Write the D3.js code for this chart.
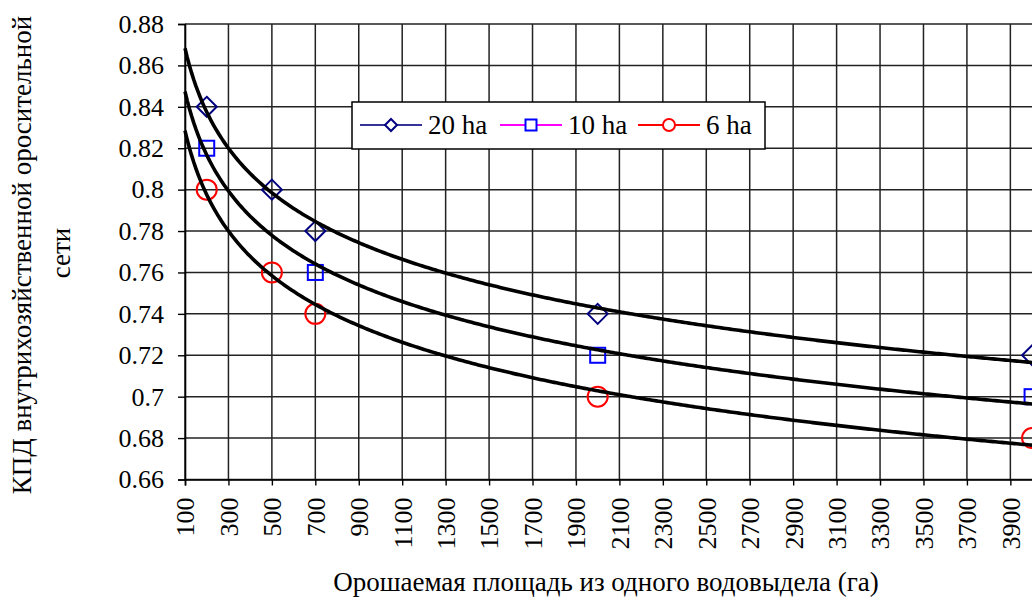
<!DOCTYPE html>
<html><head><meta charset="utf-8">
<script src="https://cdn.jsdelivr.net/npm/d3@7"></script>
<style>body{margin:0;background:#fff}svg{display:block}svg text{font-family:"Liberation Serif",serif !important;fill:#000}</style>
</head><body>
<svg id="c" width="1032" height="602"></svg>
<script>
// ---- data ----
const seriesNames = ["20 ha", "10 ha", "6 ha"];
const x20 = [200, 500, 700, 2000, 4000];
const y20 = [0.84, 0.80, 0.78, 0.74, 0.72];
const x10 = [200, 700, 2000, 4000];
const y10 = [0.82, 0.76, 0.72, 0.70];
const x6 = [200, 500, 700, 2000, 4000];
const y6 = [0.80, 0.76, 0.74, 0.70, 0.68];
const xTicks = [100,300,500,700,900,1100,1300,1500,1700,1900,2100,2300,2500,2700,2900,3100,3300,3500,3700,3900];
const yTicks = [0.66,0.68,0.70,0.72,0.74,0.76,0.78,0.80,0.82,0.84,0.86,0.88];
const xTitle = "Орошаемая площадь из одного водовыдела (га)";
const yTitle1 = "КПД внутрихозяйственной оросительной";
const yTitle2 = "сети";

const FONT = "'Liberation Serif', serif";
const svg = d3.select("#c");
const x = d3.scaleLinear().domain([100, 4100]).range([185, 185 + 4000 * 0.2172]);
const y = d3.scaleLinear().domain([0.66, 0.88]).range([479.5, 24]);
const fs = 26;

// grid
const g = svg.append("g");
g.selectAll("line.v").data(xTicks.concat([4100])).join("line")
  .attr("x1", d => x(d)).attr("x2", d => x(d)).attr("y1", y(0.88)).attr("y2", y(0.66))
  .attr("stroke", "#222").attr("stroke-width", 1.5);
g.selectAll("line.h").data(yTicks).join("line")
  .attr("x1", x(100)).attr("x2", x(4100)).attr("y1", d => y(d)).attr("y2", d => y(d))
  .attr("stroke", "#222").attr("stroke-width", 1.5);

// axes
const yAxis = d3.axisLeft(y).tickValues(yTicks).tickSize(7).tickPadding(14)
  .tickFormat(d => String(+d.toFixed(2)));
const ya = svg.append("g").attr("transform", `translate(${x(100)},0)`).call(yAxis)
  .attr("font-family", null).attr("font-size", null);
ya.select(".domain").attr("stroke", "#000").attr("stroke-width", 1.6);
ya.selectAll(".tick line").attr("stroke", "#000").attr("stroke-width", 1.4);
ya.selectAll("text").style("font-size", fs + "px").style("font-family", FONT);

const xAxis = d3.axisBottom(x).tickValues(xTicks).tickSize(6).tickFormat(d3.format("d"));
const xa = svg.append("g").attr("transform", `translate(0,${y(0.66)})`).call(xAxis)
  .attr("font-family", null).attr("font-size", null);
xa.select(".domain").attr("stroke", "#000").attr("stroke-width", 1.6);
xa.selectAll(".tick line").attr("stroke", "#000").attr("stroke-width", 1.4);
xa.selectAll("text").style("font-size", fs + "px").style("font-family", FONT)
  .attr("transform", "rotate(-90)").attr("text-anchor", "end")
  .attr("x", -18).attr("y", 0).attr("dy", "0.34em");

// markers (hollow)
const series = [
  {xs: x20, ys: y20, color: "#000080", line: "#333399", shape: "diamond"},
  {xs: x10, ys: y10, color: "#0000ff", line: "#ff00ff", shape: "square"},
  {xs: x6,  ys: y6,  color: "#ff0000", line: "#ff0000", shape: "circle"}
];
function marker(sel, shape, color, fill) {
  if (shape === "diamond") sel.append("path").attr("d", "M0,-10L10,0L0,10L-10,0Z");
  else if (shape === "square") sel.append("rect").attr("x", -7.5).attr("y", -7.5).attr("width", 15).attr("height", 15);
  else sel.append("circle").attr("r", 10);
  sel.selectAll("*").attr("fill", fill).attr("stroke", color).attr("stroke-width", 2);
}
series.forEach(s => {
  s.xs.forEach((xv, i) => {
    const m = svg.append("g").attr("transform", `translate(${x(xv)},${y(s.ys[i])})`);
    marker(m, s.shape, s.color, "none");
  });
});

// power trendlines y = a*x^b fitted by least squares on ln-ln
function powerFit(xs, ys) {
  const lx = xs.map(Math.log), ly = ys.map(Math.log);
  const mx = d3.mean(lx), my = d3.mean(ly);
  const b = d3.sum(lx.map((v, i) => (v - mx) * (ly[i] - my))) / d3.sum(lx.map(v => (v - mx) ** 2));
  const a = Math.exp(my - b * mx);
  return v => a * Math.pow(v, b);
}
const samples = d3.range(100, 4101, 10);
series.forEach(s => {
  const f = powerFit(s.xs, s.ys);
  svg.append("path").datum(samples)
    .attr("d", d3.line().x(d => x(d)).y(d => y(f(d))))
    .attr("fill", "none").attr("stroke", "#000").attr("stroke-width", 3.6)
    .attr("stroke-linejoin", "round");
});

// legend
const lg = svg.append("g");
lg.append("rect").attr("x", 352).attr("y", 102).attr("width", 413).attr("height", 47)
  .attr("fill", "#fff").attr("stroke", "#000").attr("stroke-width", 1.5);
const lx0 = [360, 500, 638];
series.forEach((s, i) => {
  const gx = lx0[i];
  lg.append("line").attr("x1", gx).attr("x2", gx + 62).attr("y1", 125).attr("y2", 125)
    .attr("stroke", s.line).attr("stroke-width", 2.2);
  const m = lg.append("g").attr("transform", `translate(${gx + 31},125)`);
  if (s.shape === "diamond") { m.append("path").attr("d", "M0,-6L6,0L0,6L-6,0Z"); }
  else if (s.shape === "square") { m.append("rect").attr("x", -5.5).attr("y", -5.5).attr("width", 11).attr("height", 11); }
  else { m.append("circle").attr("r", 6); }
  m.selectAll("*").attr("fill", "#fff").attr("stroke", s.color).attr("stroke-width", 2);
  lg.append("text").attr("x", gx + 68).attr("y", 134).style("font-size", "27px").style("font-family", FONT).text(seriesNames[i]);
});

// titles
svg.append("text").attr("x", 606).attr("y", 591).attr("text-anchor", "middle")
  .style("font-size", "27px").style("font-family", FONT).text(xTitle);
svg.append("text").attr("transform", "translate(31,255) rotate(-90)").attr("text-anchor", "middle")
  .style("font-size", "27px").style("font-family", FONT).text(yTitle1);
svg.append("text").attr("transform", "translate(70,253) rotate(-90)").attr("text-anchor", "middle")
  .style("font-size", "27px").style("font-family", FONT).text(yTitle2);
</script>
</body></html>
